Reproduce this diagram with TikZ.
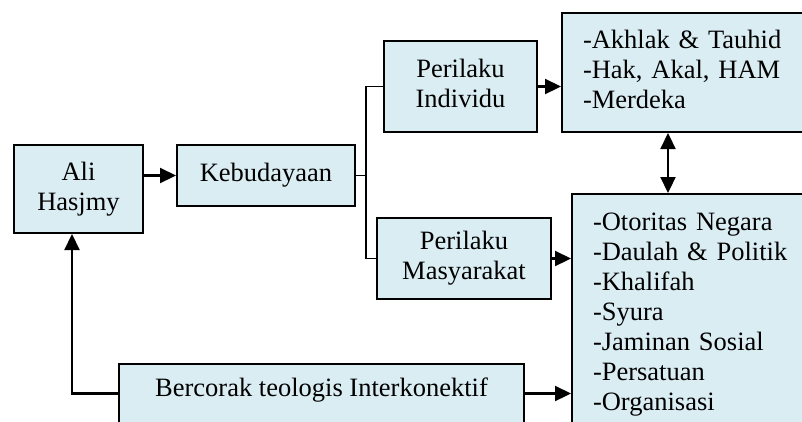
\documentclass[tikz,border=0pt]{standalone}
\usepackage{fontspec}
\setmainfont{Liberation Serif}
\usetikzlibrary{arrows.meta}
\definecolor{boxfill}{RGB}{218,237,243}
\begin{document}
\begin{tikzpicture}[x=1pt,y=-1pt,
  box/.style={draw=black,fill=boxfill,line width=2pt,inner sep=0pt,align=center,
    font=\fontsize{26.5}{30}\selectfont},
  listbox/.style={box,align=left,inner xsep=21pt,inner ysep=0pt},
  conn/.style={line width=2.2pt},
  thinconn/.style={line width=1.4pt},
  arr/.style={conn,-{Triangle[length=16pt,width=15pt]}},
  darr/.style={conn,{Triangle[length=16pt,width=15pt]}-{Triangle[length=16pt,width=15pt]}}]
\useasboundingbox (0,0) rectangle (802,421);
\clip (0,0) rectangle (802,421);
\fill[white] (0,0) rectangle (802,421);

\node[box,minimum width=129pt,minimum height=88pt] (ali) at (78.5,189) {\strut Ali\\\strut Hasjmy};
\node[box,minimum width=178pt,minimum height=61pt] (keb) at (266,175.5) {\strut Kebudayaan};
\node[box,minimum width=153pt,minimum height=91pt] (pi) at (460.5,86.5) {\strut Perilaku\\\strut Individu};
\node[box,minimum width=174pt,minimum height=81pt] (pm) at (464,258.5) {\strut Perilaku\\\strut Masyarakat};
\node[listbox,text width=256pt,minimum width=298pt,minimum height=119pt] (tb) at (711,72.5)
  {\strut -Akhlak \& Tauhid\\\strut -Hak, Akal, HAM\\\strut -Merdeka};
\node[listbox,text width=246pt,minimum width=288pt,minimum height=240pt] (br) at (716,314)
  {\strut -Otoritas Negara\\\strut -Daulah \& Politik\\\strut -Khalifah\\\strut -Syura\\\strut -Jaminan Sosial\\\strut -Persatuan\\\strut -Organisasi};
\node[box,minimum width=405pt,text height=21pt,text depth=40pt,inner ysep=11pt,anchor=base] (bc) at (321.5,396)
  {Bercorak teologis Interkonektif};

% connectors
\draw[arr] (ali.east |- keb.west) -- (keb.west);
\coordinate (split) at (366,175.5);
\draw[thinconn] (keb.east) -- (split);
\draw[thinconn] (pi.west) -| (split) |- (pm.west);
\draw[arr] (pi.east) -- (pi.east -| tb.west);
\draw[arr] (pm.east) -- (pm.east -| br.west);
\coordinate (dtop) at ([xshift=-43pt]tb.south);
\draw[darr] (dtop) -- (dtop |- br.north);
\coordinate (bcl) at ([yshift=12pt]bc.west);
\coordinate (bcr) at ([yshift=12pt]bc.east);
\draw[arr] (bcl) -| ([xshift=-6.5pt]ali.south);
\draw[arr] (bcr) -- (bcr -| br.west);
\end{tikzpicture}
\end{document}
